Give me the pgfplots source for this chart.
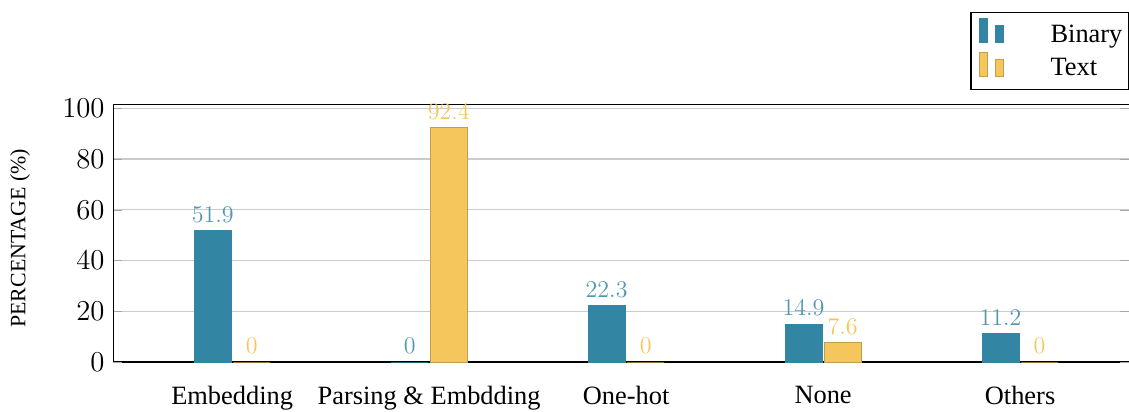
\documentclass[12pt,border=0pt]{standalone}
\usepackage{fontspec}
\setmainfont{Liberation Serif}
\usepackage{pgfplots}
\pgfplotsset{compat=1.18}
\definecolor{binblue}{HTML}{3285A3}
\definecolor{txtyel}{HTML}{F5C65C}
\begin{document}
\begin{tikzpicture}[font=\fontsize{13.2pt}{16pt}\selectfont]
\begin{axis}[
  at={(0,0)}, anchor=south west,
  width=508pt, height=129pt, scale only axis,
  xmin=-0.605, xmax=4.553,
  ymin=0, ymax=101.7,
  ybar=1pt, bar width=18.5pt,
  xtick={0,1,2,3,4},
  xticklabels={Embedding, Parsing \& Embdding, One-hot, None, Others},
  xtick style={draw=none},
  xticklabel style={yshift=-3.5pt},
  ytick={0,20,40,60,80,100},
  yticklabel style={font=\fontsize{14pt}{16pt}\selectfont},
  ymajorgrids, grid style={gray!40, line width=0.6pt},
  extra y ticks={0}, extra y tick labels={},
  extra y tick style={grid style={black, line width=1.2pt}},
  axis line style={black},
  tick style={gray!70},
  ylabel={PERCENTAGE (\%)},
  ylabel style={font=\small, at={(axis description cs:-0.0915,0.48)}, anchor=center},
  nodes near coords,
  legend style={at={(1,1.054)}, anchor=south east, draw=black, line width=0.6pt,
    column sep=21.5pt, row sep=1pt, inner xsep=1pt, inner ysep=3pt, cells={anchor=west}},
  legend image code/.code={
    \path (-3pt,0pt);
    \fill[#1] (0pt,-0.3em) rectangle (4pt,0.7em);
    \fill[#1] (8pt,-0.3em) rectangle (12pt,0.42em);
  },
]
\addplot[fill=binblue, draw=binblue, line width=0.3pt,
  every node near coord/.append style={text=binblue!85!white}]
  coordinates {(0,51.9) (1,0) (2,22.3) (3,14.9) (4,11.2)};
\addplot[fill=txtyel, draw=txtyel!80!black, line width=0.3pt,
  every node near coord/.append style={text=txtyel}]
  coordinates {(0,0) (1,92.4) (2,0) (3,7.6) (4,0)};
\legend{Binary, Text}
\end{axis}
\pgfresetboundingbox
\useasboundingbox (-56.5pt,-25pt) rectangle (508pt,181pt);
\end{tikzpicture}
\end{document}
